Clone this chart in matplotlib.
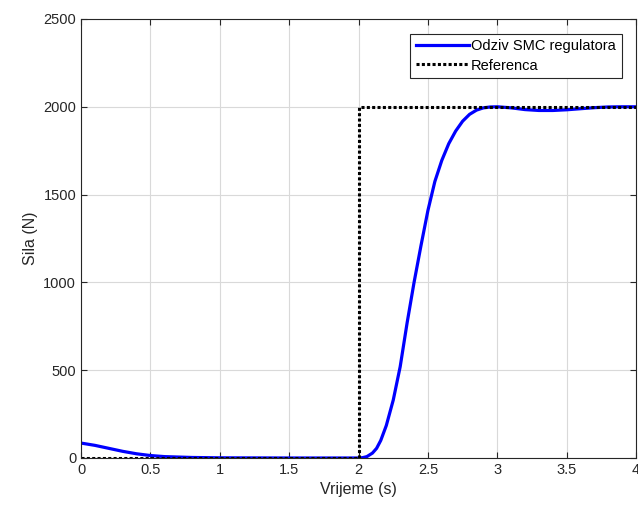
import matplotlib
matplotlib.use("Agg")
import matplotlib.pyplot as plt

# SMC controller response
t_smc = [0.0, 0.1, 0.2, 0.3, 0.4, 0.5, 0.6, 0.8, 1.0, 1.5, 2.0, 2.03, 2.06, 2.1,
         2.13, 2.16, 2.2, 2.25, 2.3, 2.35, 2.4, 2.45, 2.5, 2.55, 2.6, 2.65, 2.7,
         2.75, 2.8, 2.85, 2.9, 2.95, 3.0, 3.1, 3.2, 3.3, 3.4, 3.5, 3.6, 3.7,
         3.8, 3.9, 4.0]
f_smc = [85, 72, 55, 38, 24, 14, 8, 3, 1, 0, 0, 2, 8, 28,
         55, 100, 185, 330, 520, 770, 1000, 1210, 1410, 1575, 1695, 1790, 1862,
         1918, 1957, 1981, 1994, 1999, 2000, 1994, 1984, 1979, 1979, 1983, 1989, 1995,
         1999, 2000, 2000]

# reference step
t_ref = [0.0, 2.0, 2.0, 4.0]
f_ref = [0, 0, 2000, 2000]

plt.rcParams['font.family'] = ['Liberation Sans', 'DejaVu Sans']

fig = plt.figure(figsize=(6.38, 5.09), dpi=100)
ax = fig.add_axes([0.127, 0.1002, 0.87, 0.8625])

ax.plot(t_smc, f_smc, color='#0000ff', lw=2.3, label='Odziv SMC regulatora')
ax.plot(t_ref, f_ref, color='black', lw=2.2, dashes=(1, 0.75),
        label='Referenca')

ax.set_xlim(0, 4)
ax.set_ylim(0, 2500)
ax.set_xticks([0, 0.5, 1, 1.5, 2, 2.5, 3, 3.5, 4])
ax.set_xticklabels(['0', '0.5', '1', '1.5', '2', '2.5', '3', '3.5', '4'])
ax.set_yticks([0, 500, 1000, 1500, 2000, 2500])
ax.grid(True, color='#d9d9d9', lw=0.8)
ax.set_axisbelow(True)
ax.tick_params(direction='in', top=True, right=True, labelsize=10.5,
               colors='#262626', length=4)
for s in ax.spines.values():
    s.set_color('#262626')
    s.set_linewidth(0.8)

ax.set_xlabel('Vrijeme (s)', fontsize=11.5, color='#262626')
ax.set_ylabel('Sila (N)', fontsize=11.5, color='#262626')

leg = ax.legend(loc='upper right', fontsize=10.5, fancybox=False, framealpha=1,
                edgecolor='#262626', handlelength=3.6, handletextpad=0.15,
                borderpad=0.4, labelspacing=0.35, borderaxespad=1.0)
leg.get_frame().set_linewidth(0.8)

fig.savefig('out.png', dpi=100)
